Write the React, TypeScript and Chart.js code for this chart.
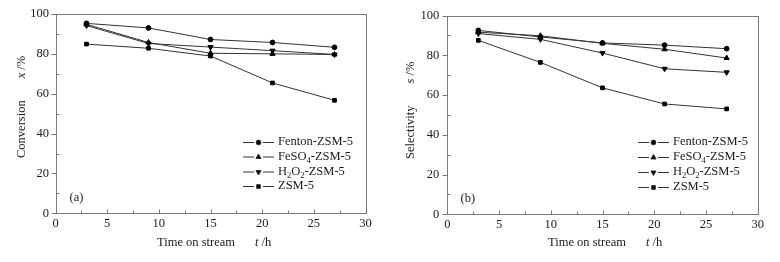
import React, { useEffect, useRef } from "react";
import { Chart, registerables } from "chart.js";
import { drawPoint } from "chart.js/helpers";

Chart.register(...registerables);

// ---- data ----
const timeHours = [3, 9, 15, 21, 27];
const xTicks = [0, 5, 10, 15, 20, 25, 30];
const yTicks = [0, 20, 40, 60, 80, 100];

const conversionFenton = [95.3, 93.0, 87.2, 85.7, 83.3];
const conversionFeSO4 = [94.8, 85.7, 80.3, 80.0, 79.7];
const conversionH2O2 = [94.2, 85.2, 83.4, 81.6, 79.7];
const conversionZSM5 = [84.9, 82.8, 78.9, 65.4, 56.7];

const selectivityFenton = [92.5, 89.2, 86.2, 85.1, 83.3];
const selectivityFeSO4 = [91.6, 89.8, 86.0, 83.0, 78.6];
const selectivityH2O2 = [90.9, 88.0, 81.1, 73.2, 71.4];
const selectivityZSM5 = [87.5, 76.4, 63.6, 55.5, 53.0];

// legend labels as [text, isSubscript] pieces
const seriesLabels: [string, boolean][][] = [
  [["Fenton-ZSM-5", false]],
  [["FeSO", false], ["4", true], ["-ZSM-5", false]],
  [["H", false], ["2", true], ["O", false], ["2", true], ["-ZSM-5", false]],
  [["ZSM-5", false]],
];
const seriesMarkers = [
  { style: "circle", rotation: 0, radius: 3 },
  { style: "triangle", rotation: 0, radius: 3.6 },
  { style: "triangle", rotation: 180, radius: 3.6 },
  { style: "rect", rotation: 0, radius: 3.2 },
];

const SERIF = "'Liberation Serif', 'DejaVu Serif', serif";
const TEXT = "#1a1a1a";
const LINE = "#333333";
const FRAME = "#7a7a7a";

type PanelSpec = {
  series: number[][];
  yTitle: string;
  yVar: string;
  panelLabel: string;
  padLeft: number;
  padRight: number;
  xHeight: number;
  yLabelPad: number;
  legendX: number;
  legendRows: number[];
  yTitleX: number;
  yTitleBottom: number;
  xTitleStart: number;
};

function drawPieces(ctx: CanvasRenderingContext2D, pieces: [string, boolean][], x: number, y: number) {
  let cx = x;
  for (const [t, sub] of pieces) {
    ctx.font = sub ? `8.5px ${SERIF}` : `12.5px ${SERIF}`;
    ctx.fillText(t, cx, sub ? y + 4 : y);
    cx += ctx.measureText(t).width;
  }
}

function makePlugin(spec: PanelSpec) {
  return {
    id: "decor",
    afterDraw(chart: any) {
      const ctx: CanvasRenderingContext2D = chart.ctx;
      const xs = chart.scales.x;
      const ys = chart.scales.y;
      const a = chart.chartArea;
      const L = Math.round(a.left) + 0.5;
      const R = Math.round(a.right) + 0.5;
      const T = Math.round(a.top) + 0.5;
      const B = Math.round(a.bottom) + 0.5;
      ctx.save();
      ctx.strokeStyle = FRAME;
      ctx.lineWidth = 1;
      ctx.strokeRect(L, T, R - L, B - T);
      ctx.beginPath();
      for (let v = 0; v <= 30; v += 2.5) {
        const px = Math.round(xs.getPixelForValue(v)) + 0.5;
        const len = v % 5 === 0 ? 4 : 3;
        ctx.moveTo(px, B);
        ctx.lineTo(px, B - len);
      }
      for (let v = 0; v <= 100; v += 10) {
        const py = Math.round(ys.getPixelForValue(v)) + 0.5;
        if (v % 20 === 0) {
          ctx.moveTo(L, py);
          ctx.lineTo(L - 5, py);
        } else {
          ctx.moveTo(L, py);
          ctx.lineTo(L + 3, py);
        }
      }
      ctx.stroke();

      // legend
      ctx.fillStyle = TEXT;
      ctx.textBaseline = "middle";
      ctx.textAlign = "left";
      spec.legendRows.forEach((ry, i) => {
        const lx = spec.legendX;
        ctx.strokeStyle = LINE;
        ctx.beginPath();
        ctx.moveTo(lx, ry + 0.5);
        ctx.lineTo(lx + 11, ry + 0.5);
        ctx.moveTo(lx + 20, ry + 0.5);
        ctx.lineTo(lx + 31, ry + 0.5);
        ctx.stroke();
        ctx.fillStyle = "#000";
        const m = seriesMarkers[i];
        drawPoint(ctx, { pointStyle: m.style, rotation: m.rotation, radius: m.radius - 0.6, borderWidth: 1 } as any, lx + 15.5, ry + 0.5);
        ctx.fillStyle = TEXT;
        drawPieces(ctx, seriesLabels[i], lx + 35, ry);
      });

      // panel label
      ctx.font = `12.5px ${SERIF}`;
      ctx.fillText(spec.panelLabel, L + 13, ys.getPixelForValue(8));

      // x title
      const xy = 243;
      let cx = spec.xTitleStart;
      ctx.font = `12.5px ${SERIF}`;
      ctx.fillText("Time on stream", cx, xy);
      cx += ctx.measureText("Time on stream").width + 20;
      ctx.font = `italic 12.5px ${SERIF}`;
      ctx.fillText("t", cx, xy);
      cx += ctx.measureText("t").width;
      ctx.font = `12.5px ${SERIF}`;
      ctx.fillText(" /h", cx, xy);

      // y title (rotated)
      ctx.translate(spec.yTitleX, spec.yTitleBottom);
      ctx.rotate(-Math.PI / 2);
      let cy = 0;
      ctx.font = `12.5px ${SERIF}`;
      ctx.fillText(spec.yTitle, cy, 0);
      cy += ctx.measureText(spec.yTitle).width + 22;
      ctx.font = `italic 12.5px ${SERIF}`;
      ctx.fillText(spec.yVar, cy, 0);
      cy += ctx.measureText(spec.yVar).width;
      ctx.font = `12.5px ${SERIF}`;
      ctx.fillText(" /%", cy, 0);
      ctx.restore();
    },
  };
}

function Panel({ spec }: { spec: PanelSpec }) {
  const ref = useRef<HTMLCanvasElement | null>(null);
  useEffect(() => {
    if (!ref.current) return;
    const chart = new Chart(ref.current, {
      type: "line",
      data: {
        datasets: spec.series.map((vals, i) => ({
          data: timeHours.map((t, j) => ({ x: t, y: vals[j] })),
          borderColor: LINE,
          borderWidth: 1,
          backgroundColor: "#000",
          pointBackgroundColor: "#000",
          pointBorderColor: "#000",
          pointBorderWidth: 1,
          pointStyle: seriesMarkers[i].style as any,
          pointRotation: seriesMarkers[i].rotation,
          pointRadius: seriesMarkers[i].radius - 0.6,
          tension: 0,
          fill: false,
        })),
      },
      options: {
        responsive: false,
        animation: false,
        devicePixelRatio: 1,
        layout: { padding: { left: 0, right: spec.padRight, top: 9.7, bottom: 0 } },
        plugins: { legend: { display: false }, tooltip: { enabled: false } },
        scales: {
          x: {
            type: "linear",
            min: 0,
            max: 30,
            afterBuildTicks: (s: any) => { s.ticks = xTicks.map((v) => ({ value: v })); },
            afterFit: (s: any) => { s.height = spec.xHeight; },
            grid: { display: false, drawTicks: false },
            border: { display: false },
            ticks: { padding: 3, color: TEXT, font: { family: SERIF, size: 12.5 }, maxRotation: 0 },
          },
          y: {
            type: "linear",
            min: 0,
            max: 100,
            afterBuildTicks: (s: any) => { s.ticks = yTicks.map((v) => ({ value: v })); },
            afterFit: (s: any) => { s.width = spec.padLeft; },
            grid: { display: false, drawTicks: false },
            border: { display: false },
            ticks: { padding: spec.yLabelPad, color: TEXT, font: { family: SERIF, size: 12.5 } },
          },
        },
      },
      plugins: [makePlugin(spec)],
    } as any);
    return () => chart.destroy();
  }, [spec]);
  return <canvas ref={ref} width={390} height={262} style={{ display: "block" }} />;
}

const leftSpec: PanelSpec = {
  series: [conversionFenton, conversionFeSO4, conversionH2O2, conversionZSM5],
  yTitle: "Conversion",
  yVar: "x",
  panelLabel: "(a)",
  padLeft: 55.5,
  padRight: 24.5,
  xHeight: 48.7,
  yLabelPad: 6.5,
  legendX: 243,
  legendRows: [142, 156.5, 171.5, 186],
  yTitleX: 22,
  yTitleBottom: 158,
  xTitleStart: 157,
};

const rightSpec: PanelSpec = {
  series: [selectivityFenton, selectivityFeSO4, selectivityH2O2, selectivityZSM5],
  yTitle: "Selectivity",
  yVar: "s",
  panelLabel: "(b)",
  padLeft: 57.3,
  padRight: 22.3,
  xHeight: 47.7,
  yLabelPad: 8,
  legendX: 248,
  legendRows: [142, 157, 172, 187],
  yTitleX: 21,
  yTitleBottom: 159,
  xTitleStart: 158,
};

export default function App() {
  return (
    <div style={{ position: "fixed", left: 0, top: 0, width: 780, height: 262, background: "#fff", display: "flex" }}>
      <Panel spec={leftSpec} />
      <Panel spec={rightSpec} />
    </div>
  );
}
